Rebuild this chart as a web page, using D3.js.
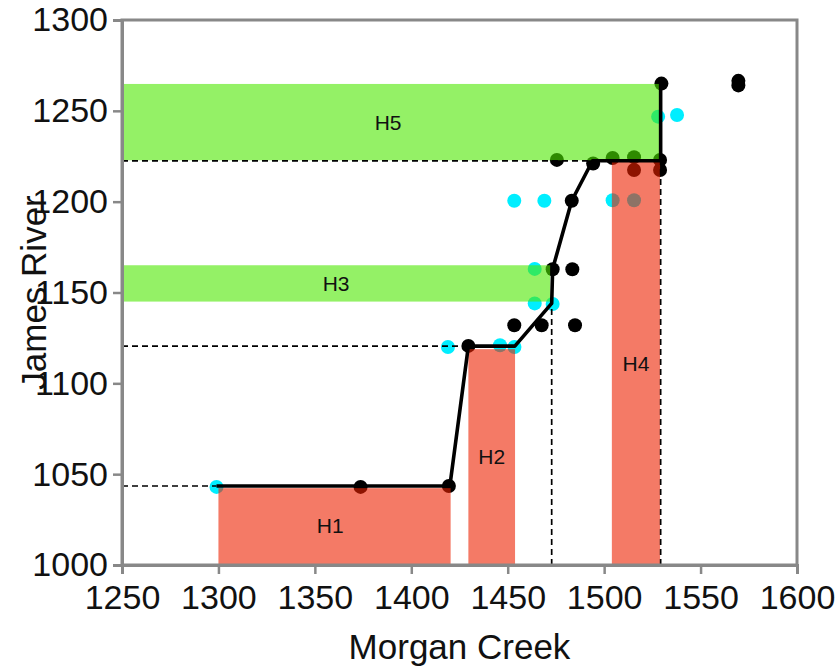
<!DOCTYPE html>
<html>
<head>
<meta charset="utf-8">
<script src="https://cdn.jsdelivr.net/npm/d3@7"></script>
<style>
  html, body { margin: 0; padding: 0; background: #fff; }
  svg { display: block; font-family: "Liberation Sans", Arial, Helvetica, sans-serif; }
</style>
</head>
<body>
<svg id="chart" width="837" height="668"></svg>
<script>
// Axis domains and tick values
const xDomain = [1250, 1600];
const yDomain = [1000, 1300];
const xTicks = [1250, 1300, 1350, 1400, 1450, 1500, 1550, 1600];
const yTicks = [1000, 1050, 1100, 1150, 1200, 1250, 1300];
const xTitle = "Morgan Creek";
const yTitle = "James River";

// Observations: [Morgan Creek, James River]
const cyanPoints = [
  [1299, 1043], [1419, 1120], [1446, 1121], [1453.5, 1120],
  [1464, 1144], [1473.3, 1143.7], [1464, 1163],
  [1453.4, 1200.5], [1469, 1200.5], [1504.4, 1200.8], [1515.5, 1200.8],
  [1528, 1246.8], [1537.8, 1247.7]
];
const blackPoints = [
  [1373.7, 1043], [1419.5, 1043.5], [1429.6, 1120.6],
  [1453.4, 1132], [1467.6, 1132], [1484.9, 1132],
  [1473.3, 1162.8], [1483.5, 1162.8],
  [1483.2, 1200.5],
  [1475.5, 1223], [1494.3, 1221], [1504.4, 1224], [1515.5, 1224.5], [1529, 1223],
  [1515.5, 1217.4], [1529, 1217.4],
  [1529.7, 1265], [1569.6, 1264], [1569.6, 1266.5]
];

// Monotone step curve through the matched pairs
const curve = [
  [1299, 1043.5], [1420, 1043.5], [1429.6, 1120.5], [1453.7, 1120.5],
  [1472.8, 1144], [1473.3, 1163], [1483.2, 1200.5], [1494, 1222.5],
  [1529.3, 1222.5], [1529.3, 1265]
];

// Highlighted intervals: name, x0, x1, y0, y1
const redBoxes = [
  { name: "H1", x0: 1300, x1: 1420.4, y0: 1000, y1: 1042.3 },
  { name: "H2", x0: 1429.6, x1: 1453.8, y0: 1000, y1: 1118.8 },
  { name: "H4", x0: 1504, x1: 1529, y0: 1000, y1: 1222 }
];
const greenBoxes = [
  { name: "H3", x0: 1250, x1: 1472, y0: 1145, y1: 1165 },
  { name: "H5", x0: 1250, x1: 1529, y0: 1222.8, y1: 1264.8 }
];
const labelPos = [
  { name: "H1", x: 1358, y: 1022 },
  { name: "H2", x: 1441.7, y: 1060 },
  { name: "H3", x: 1361, y: 1155 },
  { name: "H4", x: 1516.5, y: 1111 },
  { name: "H5", x: 1388, y: 1243.5 }
];

// Reference guides: horizontal [y, xEnd] and vertical [x, yEnd]
const hGuides = [[1043.5, 1299], [1120.5, 1429.6], [1222.5, 1494]];
const vGuides = [[1472.8, 1144], [1529.3, 1222.5]];

const svg = d3.select("#chart");
const mLeft = 122, mRight = 797, mTop = 20, mBottom = 565;

const x = d3.scaleLinear().domain(xDomain).range([mLeft, mRight]);
const y = d3.scaleLinear().domain(yDomain).range([mBottom, mTop]);

// Points sit underneath the translucent interval boxes
const pts = svg.append("g");
pts.selectAll("circle.c").data(cyanPoints).join("circle")
  .attr("class", "c")
  .attr("cx", d => x(d[0])).attr("cy", d => y(d[1])).attr("r", 7)
  .attr("fill", "#00eeff");
pts.selectAll("circle.k").data(blackPoints).join("circle")
  .attr("class", "k")
  .attr("cx", d => x(d[0])).attr("cy", d => y(d[1])).attr("r", 7)
  .attr("fill", "#000");

const boxes = svg.append("g");
boxes.selectAll("rect.r").data(redBoxes).join("rect")
  .attr("class", "r")
  .attr("x", d => x(d.x0)).attr("width", d => x(d.x1) - x(d.x0))
  .attr("y", d => y(d.y1)).attr("height", d => y(d.y0) - y(d.y1))
  .attr("fill", "rgb(237,33,0)").attr("fill-opacity", 0.6);
boxes.selectAll("rect.g").data(greenBoxes).join("rect")
  .attr("class", "g")
  .attr("x", d => x(d.x0)).attr("width", d => x(d.x1) - x(d.x0))
  .attr("y", d => y(d.y1)).attr("height", d => y(d.y0) - y(d.y1))
  .attr("fill", "rgb(76,232,0)").attr("fill-opacity", 0.6);

// Dashed guides
const guides = svg.append("g")
  .attr("stroke", "#000").attr("stroke-width", 1.7).attr("stroke-dasharray", "6,4");
guides.selectAll("line.h").data(hGuides).join("line")
  .attr("class", "h")
  .attr("x1", x(xDomain[0])).attr("x2", d => x(d[1]))
  .attr("y1", d => y(d[0])).attr("y2", d => y(d[0]));
guides.selectAll("line.v").data(vGuides).join("line")
  .attr("class", "v")
  .attr("x1", d => x(d[0])).attr("x2", d => x(d[0]))
  .attr("y1", y(yDomain[0])).attr("y2", d => y(d[1]));

// Step curve
svg.append("path")
  .datum(curve)
  .attr("fill", "none").attr("stroke", "#000").attr("stroke-width", 3.6)
  .attr("stroke-linejoin", "round")
  .attr("d", d3.line().x(d => x(d[0])).y(d => y(d[1])));

// Box labels
svg.append("g").selectAll("text").data(labelPos).join("text")
  .attr("x", d => x(d.x)).attr("y", d => y(d.y))
  .attr("text-anchor", "middle").attr("dominant-baseline", "central")
  .attr("font-size", 21).attr("fill", "#111")
  .text(d => d.name);

// Frame and axes
const axisColor = "#888";
svg.append("rect")
  .attr("x", mLeft).attr("y", mTop).attr("width", mRight - mLeft).attr("height", mBottom - mTop)
  .attr("fill", "none").attr("stroke", axisColor).attr("stroke-width", 3);

const xAxis = svg.append("g")
  .attr("transform", `translate(0,${mBottom})`)
  .call(d3.axisBottom(x).tickValues(xTicks).tickFormat(d3.format("d")).tickSize(9).tickPadding(11));
const yAxis = svg.append("g")
  .attr("transform", `translate(${mLeft},0)`)
  .call(d3.axisLeft(y).tickValues(yTicks).tickFormat(d3.format("d")).tickSize(9).tickPadding(5));
[xAxis, yAxis].forEach(g => {
  g.select(".domain").attr("stroke", axisColor).attr("stroke-width", 3);
  g.selectAll(".tick line").attr("stroke", axisColor).attr("stroke-width", 2.5);
  g.selectAll(".tick text")
    .attr("font-family", "'Liberation Sans', Arial, Helvetica, sans-serif")
    .attr("font-size", 34).attr("fill", "#111");
});

svg.append("text")
  .attr("x", (mLeft + mRight) / 2).attr("y", 659)
  .attr("text-anchor", "middle").attr("font-size", 35).attr("fill", "#111")
  .text(xTitle);
svg.append("text")
  .attr("transform", `translate(46,${(mTop + mBottom) / 2}) rotate(-90)`)
  .attr("text-anchor", "middle").attr("font-size", 35).attr("fill", "#111")
  .text(yTitle);
</script>
</body>
</html>
